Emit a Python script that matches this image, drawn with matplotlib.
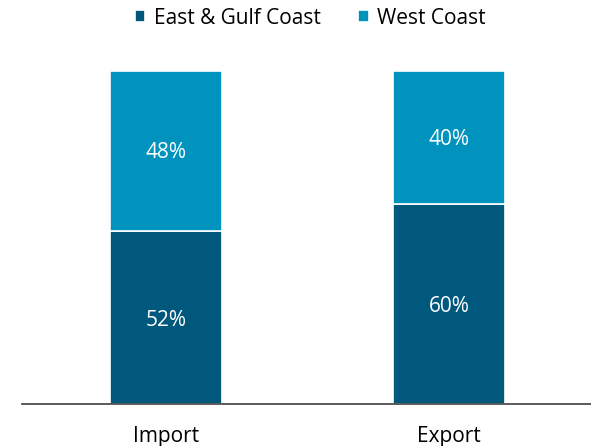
import matplotlib.pyplot as plt
import numpy as np

plt.rcParams['font.family'] = ['Open Sans', 'DejaVu Sans']

categories = ['Import', 'Export']
east_gulf = [52, 60]
west = [48, 40]

dark = '#00587C'
light = '#0093BE'

x = np.arange(len(categories))
width = 0.395

fig = plt.figure(figsize=(5.91, 4.46), dpi=100)
ax = fig.add_axes([22 / 591, 1 - 404 / 446, 1 - 22 / 591, 333 / 446])

east_frac = np.array(east_gulf) / 100
west_frac = np.array(west) / 100

b1 = ax.bar(x, east_frac, width, color=dark, edgecolor='white', linewidth=1.2, label='East & Gulf Coast')
b2 = ax.bar(x, west_frac, width, bottom=east_frac, color=light, edgecolor='white', linewidth=1.2, label='West Coast')

for i in range(len(x)):
    ax.text(x[i], east_frac[i] / 2 - 0.008, f'{east_gulf[i]}%', ha='center', va='center', color='white', fontsize=15)
    ax.text(x[i], east_frac[i] + west_frac[i] / 2 - 0.005, f'{west[i]}%', ha='center', va='center', color='white', fontsize=15)

ax.set_xlim(-0.508, 1.5)
ax.set_ylim(0, 1)
ax.set_xticks(x)
ax.set_xticklabels(categories, fontsize=15)
ax.tick_params(axis='x', length=0, pad=16)
ax.set_yticks([])
for s in ['top', 'right', 'left']:
    ax.spines[s].set_visible(False)
ax.spines['bottom'].set_color('#404040')
ax.spines['bottom'].set_linewidth(1.2)

fig.legend(handles=[b1, b2], loc='upper center', bbox_to_anchor=(0.525, 1.025), ncol=2, frameon=False,
           fontsize=15, handlelength=0.5, handleheight=0.5, handletextpad=0.4, columnspacing=1.8)

plt.savefig('out.png', dpi=100)
